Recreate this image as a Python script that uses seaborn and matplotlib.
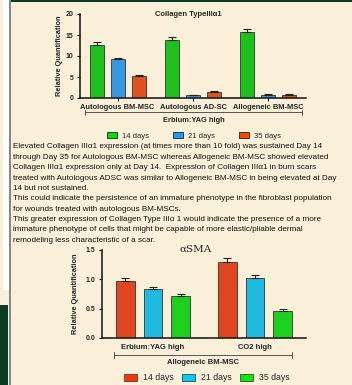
import numpy as np
import pandas as pd
import matplotlib
matplotlib.use("Agg")
import matplotlib.pyplot as plt
from matplotlib.patches import Patch, Rectangle
import seaborn as sns

# --- data ---
col_groups = ["Autologous BM-MSC", "Autologous AD-SC", "Allogeneic BM-MSC"]
days = ["14 days", "21 days", "35 days"]
col_means = {
    "14 days": [12.7, 13.9, 15.7],
    "21 days": [9.2, 0.6, 0.8],
    "35 days": [5.2, 1.5, 0.8],
}
col_err = {
    "14 days": [0.6, 0.6, 0.7],
    "21 days": [0.4, 0.2, 0.1],
    "35 days": [0.3, 0.1, 0.1],
}
col_yticks = [0, 5, 10, 15, 20]

sma_groups = ["Erbium:YAG high", "CO2 high"]
sma_means = {
    "14 days": [0.97, 1.29],
    "21 days": [0.83, 1.01],
    "35 days": [0.71, 0.46],
}
sma_err = {
    "14 days": [0.05, 0.06],
    "21 days": [0.03, 0.05],
    "35 days": [0.03, 0.04],
}
sma_yticks = [0.0, 0.5, 1.0, 1.5]

paragraph = [
    "Elevated Collagen III\u03b11 expression (at times more than 10 fold) was sustained Day 14",
    "through Day 35 for Autologous BM-MSC whereas Allogeneic BM-MSC showed elevated",
    "Collagen III\u03b11 expression only at Day 14.  Expression of Collagen III\u03b11 in burn scars",
    "treated with Autologous ADSC was similar to Allogeneic BM-MSC in being elevated at Day",
    "14 but not sustained.",
    "This could indicate the persistence of an immature phenotype in the fibroblast population",
    "for wounds treated with autologous BM-MSCs.",
    "This greater expression of Collagen Type III\u03b1 1 would indicate the presence of a more",
    "immature phenotype of cells that might be capable of more elastic/pliable dermal",
    "remodeling less characteristic of a scar.",
]

col_colors = ["#00DD00", "#1E9BFF", "#FF4400"]
sma_colors = ["#FF3300", "#00CCFF", "#00EE00"]
bg = "#FAF0DA"

sns.set_style("white")
plt.rcParams["font.family"] = ["Liberation Sans", "DejaVu Sans"]

W, H = 352, 385
fig = plt.figure(figsize=(W / 100, H / 100), dpi=100)
fig.patch.set_facecolor(bg)

# slide decoration: left strip, top band, lower-left box
fig.patches.append(Rectangle((3 / W, 1 - 290 / H), 6 / W, 290 / H, transform=fig.transFigure,
                             facecolor="white", edgecolor="none"))
fig.patches.append(Rectangle((9 / W, 0), 2 / W, 1, transform=fig.transFigure,
                             facecolor="#888888", edgecolor="none"))
fig.patches.append(Rectangle((0, 0), 8 / W, 80 / H, transform=fig.transFigure,
                             facecolor="#0B3B24", edgecolor="none"))
fig.patches.append(Rectangle((11 / W, 1 - 2 / H), 1, 2 / H, transform=fig.transFigure,
                             facecolor="#0B3B24", edgecolor="none"))


def long_df(groups, means, errs):
    rows = []
    for d in days:
        for g, m, e in zip(groups, means[d], errs[d]):
            rows.append({"group": g, "day": d, "value": m, "err": e})
    return pd.DataFrame(rows)


def draw_bars(ax, df, colors, gap, width):
    sns.barplot(data=df, x="group", y="value", hue="day", palette=colors, ax=ax,
                errorbar=None, width=width, gap=gap, edgecolor="#333333", linewidth=0.6,
                legend=False)
    # error bars (upper only) from the bar positions
    for bars, d in zip(ax.containers, days):
        sub = df[df["day"] == d]
        xs = [b.get_x() + b.get_width() / 2 for b in bars]
        ax.errorbar(xs, sub["value"], yerr=[np.zeros(len(sub)), sub["err"]], fmt="none",
                    ecolor="#222222", elinewidth=0.8, capsize=3, capthick=0.8)
    ax.set_facecolor(bg)
    sns.despine(ax=ax)
    for s in ["left", "bottom"]:
        ax.spines[s].set_color("#111111")
        ax.spines[s].set_linewidth(1.1)
    ax.set_xlabel("")


def bracket(ax, x0, x1, y, label, ly, fs):
    ax.plot([x0, x1], [y, y], transform=ax.transAxes, color="#555555", lw=0.7, clip_on=False)
    for xx in (x0, x1):
        ax.plot([xx, xx], [y - 0.03, y + 0.03], transform=ax.transAxes, color="#555555",
                lw=0.7, clip_on=False)
    ax.text((x0 + x1) / 2, ly, label, transform=ax.transAxes, ha="center", va="center",
            fontsize=fs, fontweight="bold")


# --- Collagen chart ---
ax1 = fig.add_axes([80 / W, 1 - 98 / H, 226 / W, 84 / H])
draw_bars(ax1, long_df(col_groups, col_means, col_err), col_colors, gap=0.33, width=0.84)
ax1.set_ylim(0, 20)
ax1.set_xlim(-0.5, 2.5)
ax1.set_yticks(col_yticks)
ax1.set_yticklabels([str(t) for t in col_yticks], fontsize=5, fontweight="bold")
ax1.set_xticks(range(len(col_groups)))
ax1.set_xticklabels(col_groups, fontsize=5.4, fontweight="bold")
ax1.tick_params(axis="both", length=2.5, width=0.8, pad=2, color="#111111", direction="out",
                left=True, bottom=True)
ax1.set_ylabel("Relative Quantification", fontsize=5.3, fontweight="bold", labelpad=2)
ax1.text(0.48, 1.0, "Collagen TypeIII\u03b11", transform=ax1.transAxes, ha="center",
         va="center", fontsize=5.5, fontweight="bold")
bracket(ax1, 0.022, 0.982, -0.167, "Erbium:YAG high", -0.262, 5.4)

leg1 = [Patch(facecolor=c, edgecolor="#222222", linewidth=0.6, label=d)
        for c, d in zip(col_colors, days)]
fig.legend(handles=leg1, loc="center", bbox_to_anchor=(194 / W, 1 - 136 / H), ncol=3,
           frameon=False, fontsize=5.5, handlelength=1.3, handleheight=0.9,
           handletextpad=0.6, columnspacing=3.2)

# --- paragraph ---
for i, line in enumerate(paragraph):
    fig.text(13 / W, 1 - (147 + i * 10.35) / H, line, ha="left", va="center",
             fontsize=5.9, color="#111111")

# --- alpha-SMA chart ---
ax2 = fig.add_axes([102 / W, 1 - 338 / H, 204 / W, 88.5 / H])
draw_bars(ax2, long_df(sma_groups, sma_means, sma_err), sma_colors, gap=0.32, width=0.82)
ax2.set_ylim(0, 1.5)
ax2.set_xlim(-0.5, 1.5)
ax2.set_yticks(sma_yticks)
ax2.set_yticklabels([f"{t:.1f}" for t in sma_yticks], fontsize=5, fontweight="bold")
ax2.set_xticks(range(len(sma_groups)))
ax2.set_xticklabels(sma_groups, fontsize=5.5, fontweight="bold")
ax2.tick_params(axis="y", length=2.5, width=0.8, pad=2, color="#111111", left=True)
ax2.tick_params(axis="x", length=0, pad=4)
ax2.set_ylabel("Relative Quantification", fontsize=5.3, fontweight="bold", labelpad=5)
ax2.text(0.46, 1.0, "\u03b1SMA", transform=ax2.transAxes, ha="center", va="center",
         fontsize=7.5, family=["DejaVu Serif", "DejaVu Sans"])
bracket(ax2, 0.059, 0.931, -0.192, "Allogeneic BM-MSC", -0.279, 5.5)

leg2 = [Patch(facecolor=c, edgecolor="#444444", linewidth=0.6, label=d)
        for c, d in zip(sma_colors, days)]
fig.legend(handles=leg2, loc="center", bbox_to_anchor=(207 / W, 1 - 378 / H), ncol=3,
           frameon=False, fontsize=6.3, handlelength=1.5, handleheight=0.9,
           handletextpad=0.7, columnspacing=0.9)

fig.savefig("out.png", dpi=100, facecolor=bg)
